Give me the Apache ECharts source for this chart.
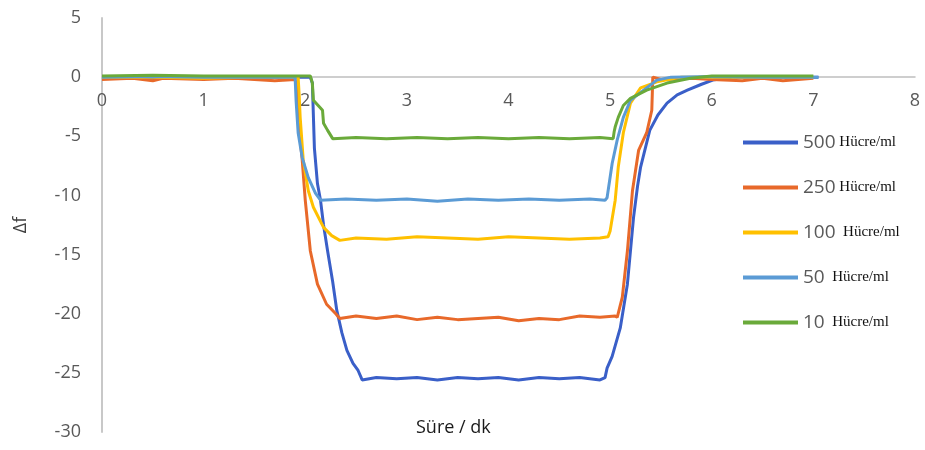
<!DOCTYPE html>
<html><head><meta charset="utf-8">
<script src="https://cdn.jsdelivr.net/npm/echarts@6/dist/echarts.min.js"></script>
<style>html,body{margin:0;padding:0;background:#fff}#c{width:925px;height:450px}</style>
</head><body><div id="c"></div>
<script>
var seriesNames = ['500 Hücre/ml', '250 Hücre/ml', '100  Hücre/ml', '50  Hücre/ml', '10  Hücre/ml'];
var xTicks = [0, 1, 2, 3, 4, 5, 6, 7, 8];
var yTicks = [5, 0, -5, -10, -15, -20, -25, -30];

var s500 = [[0,0],[0.3,0],[0.5,-0.1],[0.8,0],[1.2,0],[1.5,-0.1],[1.8,0],[2.05,0],
  [2.07,-0.5],[2.09,-6],[2.12,-9],[2.15,-10.4],[2.18,-12.5],[2.22,-14.7],[2.27,-17.3],[2.31,-19.7],[2.36,-21.6],[2.41,-23.1],[2.47,-24.2],[2.52,-24.8],[2.56,-25.6],
  [2.7,-25.4],[2.9,-25.5],[3.1,-25.4],[3.3,-25.6],[3.5,-25.4],[3.7,-25.5],[3.9,-25.4],[4.1,-25.6],[4.3,-25.4],[4.5,-25.5],[4.7,-25.4],[4.9,-25.6],[4.95,-25.4],
  [4.97,-24.6],[5.02,-23.6],[5.10,-21.2],[5.17,-17.5],[5.23,-11.9],[5.27,-9.2],[5.30,-7.6],[5.39,-4.5],[5.47,-3.2],[5.56,-2.2],[5.66,-1.5],[5.76,-1.1],[5.9,-0.6],[6.01,-0.25],[6.2,0],[6.5,0],[6.8,0],[7.05,0]];
var s250 = [[0,-0.2],[0.3,-0.1],[0.5,-0.3],[0.6,-0.1],[1.0,-0.2],[1.3,-0.1],[1.7,-0.3],[1.9,-0.2],
  [1.92,-1],[1.93,-3.4],[1.97,-7.0],[2.0,-10.4],[2.05,-14.7],[2.12,-17.5],[2.21,-19.2],[2.3,-20.0],[2.34,-20.4],
  [2.5,-20.2],[2.7,-20.4],[2.9,-20.2],[3.1,-20.5],[3.3,-20.3],[3.5,-20.5],[3.7,-20.4],[3.9,-20.3],[4.1,-20.6],[4.3,-20.4],[4.5,-20.5],[4.7,-20.2],[4.9,-20.3],[5.05,-20.2],
  [5.07,-20.3],[5.12,-18.6],[5.17,-14.7],[5.22,-9.6],[5.28,-6.2],[5.36,-4.7],[5.41,-2.8],[5.42,0],[5.5,-0.2],[5.8,-0.1],[6.0,-0.2],[6.3,-0.3],[6.5,-0.1],[6.7,-0.3],[7.0,-0.1]];
var s100 = [[0,0],[0.5,0],[1,-0.1],[1.5,0],[1.93,0],
  [1.94,-1.5],[1.95,-3.4],[1.98,-7],[2.03,-9.6],[2.08,-11.0],[2.18,-12.7],[2.26,-13.4],[2.34,-13.8],
  [2.5,-13.6],[2.8,-13.7],[3.1,-13.5],[3.4,-13.6],[3.7,-13.7],[4.0,-13.5],[4.3,-13.6],[4.6,-13.7],[4.9,-13.6],[4.98,-13.5],
  [5.0,-13.0],[5.05,-10.4],[5.08,-7.6],[5.13,-4.7],[5.2,-2.2],[5.30,-0.9],[5.46,-0.4],[5.7,0],[6,0],[6.5,0],[7.0,0]];
var s50 = [[0,0],[0.5,0.05],[1,0],[1.5,0],[1.9,0],
  [1.91,-2],[1.93,-4.7],[1.97,-6.8],[2.03,-8.5],[2.1,-9.8],[2.15,-10.4],
  [2.4,-10.3],[2.7,-10.4],[3.0,-10.3],[3.3,-10.5],[3.6,-10.3],[3.9,-10.4],[4.2,-10.3],[4.5,-10.4],[4.8,-10.3],[4.95,-10.4],
  [4.97,-10.2],[5.02,-7.3],[5.07,-5.3],[5.13,-3.4],[5.2,-1.95],[5.33,-1.1],[5.46,-0.25],[5.6,0],[6,0.05],[6.5,0],[7.05,0]];
var s10 = [[0,0.1],[0.5,0.15],[1,0.1],[1.5,0.1],[2.05,0.1],
  [2.07,-0.5],[2.08,-1.95],[2.17,-2.8],[2.18,-3.9],[2.22,-4.5],[2.27,-5.2],
  [2.5,-5.1],[2.8,-5.2],[3.1,-5.1],[3.4,-5.2],[3.7,-5.1],[4.0,-5.2],[4.3,-5.1],[4.6,-5.2],[4.9,-5.1],[5.03,-5.2],
  [5.04,-4.6],[5.05,-4.2],[5.08,-3.4],[5.13,-2.4],[5.2,-1.8],[5.36,-1.1],[5.56,-0.5],[5.79,-0.1],[6,0.1],[6.5,0.1],[7.0,0.1]];

var colors = ['#3A5FC8', '#E8692A', '#FFC000', '#5B9BD5', '#6AAA3A'];
var allData = [s500, s250, s100, s50, s10];

var gridTop = 18, gridBottom = 18, H = 450;
var yMin = yTicks[yTicks.length - 1], yMax = yTicks[0];
var plotH = H - gridTop - gridBottom;
var zeroFromBottom = plotH * (0 - yMin) / (yMax - yMin);

var chart = echarts.init(document.getElementById('c'));
var font = '"Open Sans", "Liberation Sans", sans-serif';
chart.setOption({
  animation: false,
  grid: { left: 102, right: 10, top: gridTop, bottom: gridBottom },
  xAxis: {
    type: 'value', min: xTicks[0], max: xTicks[xTicks.length - 1], interval: 1,
    position: 'bottom', offset: -zeroFromBottom,
    axisLine: { onZero: false, lineStyle: { color: '#bfbfbf', width: 1.5 } },
    axisTick: { show: false }, splitLine: { show: false },
    axisLabel: { color: '#595959', fontSize: 18, fontFamily: font, margin: 15 }
  },
  yAxis: {
    type: 'value', min: yMin, max: yMax, interval: 5,
    name: 'Δf', nameLocation: 'middle', nameGap: 72,
    nameTextStyle: { color: '#404040', fontSize: 18, fontFamily: font },
    axisLine: { show: true, onZero: false, lineStyle: { color: '#c8c8c8', width: 2 } },
    axisTick: { show: false }, splitLine: { show: false },
    axisLabel: { color: '#595959', fontSize: 18, fontFamily: font, margin: 21 }
  },
  legend: {
    orient: 'vertical', left: 738, top: 128, itemGap: 26,
    icon: 'rect', itemWidth: 55, itemHeight: 4,
    data: seriesNames,
    formatter: function (n) {
      var i = n.indexOf(' ');
      return '{n|' + n.slice(0, i) + '}{u|' + n.slice(i) + '}';
    },
    textStyle: {
      rich: {
        n: { color: '#595959', fontSize: 19, fontFamily: font, lineHeight: 20 },
        u: { color: '#111', fontSize: 15, fontFamily: '"Liberation Serif", "DejaVu Serif", serif', lineHeight: 20 }
      }
    }
  },
  graphic: [{
    type: 'text', left: 416, top: 419,
    style: { text: 'Süre / dk', fill: '#1a1a1a', font: '18px ' + font }
  }],
  series: allData.map(function (d, i) {
    return {
      name: seriesNames[i], type: 'line', data: d, showSymbol: false,
      lineStyle: { color: colors[i], width: 3 }, itemStyle: { color: colors[i] }
    };
  })
});
</script></body></html>
